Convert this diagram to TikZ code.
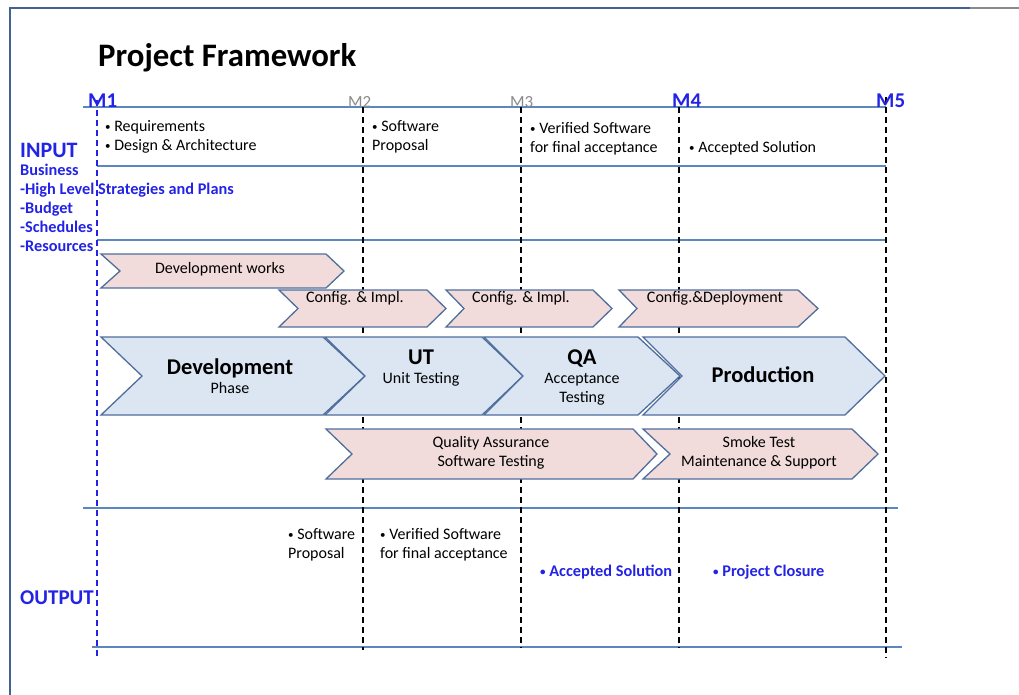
\documentclass[tikz,border=0pt]{standalone}
\usepackage{fontspec}
\setmainfont{Carlito}
\definecolor{hl}{HTML}{5B87C0}
\definecolor{framec}{HTML}{41638F}
\definecolor{chevline}{HTML}{4F6E9C}
\definecolor{pinkfill}{HTML}{F2DCDB}
\definecolor{bluefill}{HTML}{DCE6F2}
\definecolor{myblue}{HTML}{2323E6}
\definecolor{mgray}{HTML}{8A8A8A}
\newcommand\mkchev[7]{\path[#1] (#2,#5) -- (#3,#5) -- (#4,{(#5+#6)/2}) -- (#3,#6) -- (#2,#6) -- (#7,{(#5+#6)/2}) -- cycle;}
\newcommand\bul{{\fontsize{11}{11}\selectfont\raisebox{0.5pt}{•}}}
\begin{document}
\begin{tikzpicture}[x=1pt,y=-1pt,
  hline/.style={draw=hl, line width=1.6pt},
  mdash/.style={line width=1.3pt, dash pattern=on 6pt off 4pt},
  pinkchev/.style={fill=pinkfill, draw=chevline, line width=1.3pt},
  bluechev/.style={fill=bluefill, draw=chevline, line width=1.3pt},
  txt/.style={inner sep=0pt, align=left, font=\fontsize{16}{19}\selectfont},
  ctxt/.style={inner sep=0pt, align=center, font=\fontsize{16}{19}\selectfont},
  bluetxt/.style={inner sep=0pt, align=left, text=myblue, font=\fontsize{16.3}{19}\bfseries},
  bigtxt/.style={inner sep=0pt, font=\fontsize{22.5}{26}\bfseries},
  mlabel/.style={inner sep=0pt, anchor=base west, font=\fontsize{21}{24}\bfseries, text=myblue},
  glabel/.style={inner sep=0pt, anchor=base west, font=\fontsize{17}{20}\selectfont, text=mgray},
]
\useasboundingbox (0,0) rectangle (1019,695);
% frame
\draw[framec, line width=1.5pt] (10,695) -- (10,8) -- (970,8);
\draw[mgray, line width=1.5pt] (970,8) -- (1019,8);
% title
\node[inner sep=0pt, anchor=west, font=\fontsize{32.8}{38}\bfseries] (title) at (98,58) {Project Framework};
% milestone coordinates
\coordinate (m1t) at (97,100);  \coordinate (m1b) at (97,657);
\coordinate (m2t) at (363,107); \coordinate (m2b) at (363,650);
\coordinate (m3t) at (521,107); \coordinate (m3b) at (521,648);
\coordinate (m4t) at (679,107); \coordinate (m4b) at (679,648);
\coordinate (m5t) at (886,97);  \coordinate (m5b) at (886,658);
% horizontal lines
\coordinate (h1a) at (83,107);  \coordinate (h1b) at (886,107);
\coordinate (h2a) at (97,166);  \coordinate (h2b) at (886,166);
\coordinate (h3a) at (97,240);  \coordinate (h3b) at (886,240);
\coordinate (h4a) at (83,508);  \coordinate (h4b) at (898,508);
\coordinate (h5a) at (92,647);  \coordinate (h5b) at (902,647);
\draw[hline, line width=1.4pt] (h1a) -- (h1b);
\draw[hline, line width=1.4pt] (h2a) -- (h2b);
\draw[hline, line width=1.4pt] (h3a) -- (h3b);
\draw[hline, line width=2pt] (h4a) -- (h4b);
\draw[hline, line width=2pt] (h5a) -- (h5b);
% dashed milestone lines
\draw[mdash, myblue] (m1t) -- (m1b);
\draw[mdash, black] (m2t) -- (m2b);
\draw[mdash, black] (m3t) -- (m3b);
\draw[mdash, black] (m4t) -- (m4b);
\draw[mdash, black] (m5t) -- (m5b);
% milestone labels
\node[mlabel] (M1) at (88,108) {M1};
\node[glabel] (M2) at (348,108) {M2};
\node[glabel] (M3) at (510,108) {M3};
\node[mlabel] (M4) at (672,108) {M4};
\node[mlabel] (M5) at (876,108) {M5};
% input
\node[inner sep=0pt, anchor=west, text=myblue, font=\fontsize{22}{26}\bfseries] (input) at (20,150) {INPUT};
\node[bluetxt, anchor=west] (business) at (20,208) {Business\\-High Level Strategies and Plans\\-Budget\\-Schedules\\-Resources};
\node[txt, anchor=west] (in1) at (105,136.5) {\bul\ Requirements\\\bul\ Design \& Architecture};
\node[txt, anchor=west] (in2) at (372,136.5) {\bul\ Software\\Proposal};
\node[txt, anchor=west] (in3) at (530,138.5) {\bul\ Verified Software\\for final acceptance};
\node[txt, anchor=west] (in4) at (689,148) {\bul\ Accepted Solution};
% chevrons row 1 and 2
\mkchev{pinkchev}{101}{326}{344}{254}{288}{120}
\node[ctxt] (devworks) at (220,269) {Development works};
\mkchev{pinkchev}{279}{427}{446}{290}{327}{298}
\node[ctxt] (cfg1) at (355,298) {Config. \& Impl.};
\mkchev{pinkchev}{446}{593}{612}{290}{327}{464}
\node[ctxt] (cfg2) at (521,298) {Config. \& Impl.};
\mkchev{pinkchev}{619}{798}{818}{290}{327}{637}
\node[ctxt] (cfg3) at (715,298) {Config.\&Deployment};
% row 3 phases
\mkchev{bluechev}{101}{323}{365}{337}{415}{142}
\mkchev{bluechev}{325}{482}{523}{337}{415}{365}
\mkchev{bluechev}{484}{638}{680}{337}{415}{523}
\mkchev{bluechev}{643}{845}{885}{337}{415}{682}
\node[ctxt] (dev) at (230,376) {{\fontsize{22.5}{19}\bfseries Development}\\Phase};
\node[ctxt] (ut) at (421,368) {{\fontsize{22.5}{19}\bfseries UT}\\Unit Testing};
\node[ctxt] (qa) at (582,377) {{\fontsize{22.5}{19}\bfseries QA}\\Acceptance\\Testing};
\node[bigtxt] (prod) at (763,375) {Production};
% row 4
\mkchev{pinkchev}{326}{633}{657}{429}{479}{352}
\node[ctxt] (qaband) at (491,452.5) {Quality Assurance\\Software Testing};
\mkchev{pinkchev}{643}{852}{878}{429}{479}{670}
\node[ctxt] (smoke) at (759,452.5) {Smoke Test\\Maintenance \& Support};
% output
\node[txt, anchor=west] (out1) at (288,544.5) {\bul\ Software\\Proposal};
\node[txt, anchor=west] (out2) at (380,544.5) {\bul\ Verified Software\\for final acceptance};
\node[bluetxt, anchor=west] (out3) at (540,572) {\bul\ Accepted Solution};
\node[bluetxt, anchor=west] (out4) at (713,572) {\bul\ Project Closure};
\node[inner sep=0pt, anchor=west, text=myblue, font=\fontsize{21}{26}\bfseries] (output) at (20,598) {OUTPUT};
\end{tikzpicture}
\end{document}
